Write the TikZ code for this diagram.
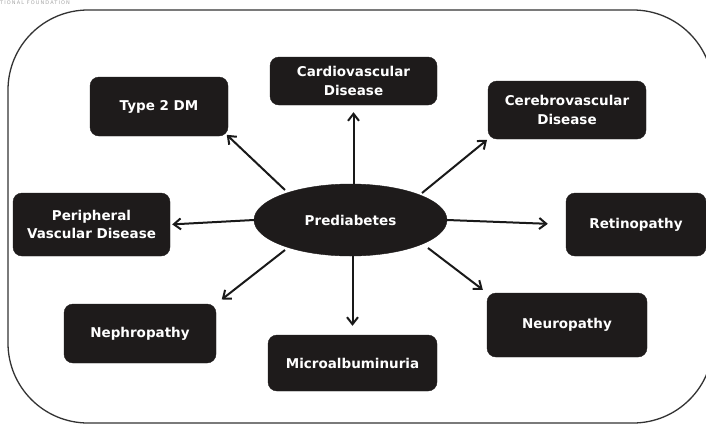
\documentclass[tikz,border=0pt]{standalone}
\usepackage{fontspec}
\setmainfont{DejaVu Sans}
\usetikzlibrary{shapes.geometric,arrows.meta}
\definecolor{boxfill}{HTML}{1E1B1B}
\tikzset{
  box/.style={draw=boxfill, fill=boxfill, rounded corners=9pt, text=white,
    font=\bfseries\fontsize{13.5}{18.5}\selectfont, align=center, inner sep=0pt},
  arr/.style={-{Straight Barb[length=7pt,width=11pt,line width=2pt]}, line width=2pt, black!90},
}
\begin{document}
\begin{tikzpicture}[x=1pt,y=-1pt]
\useasboundingbox (0,0) rectangle (706,424);
\fill[white] (0,0) rectangle (706,424);
\node[anchor=north west, inner sep=0pt, text=black!35, font=\fontsize{5}{5.5}\selectfont] (hdr) at (0,0.3) {\addfontfeature{LetterSpace=22}TIONAL FOUNDATION};
\draw[line width=1.3pt, black!80, rounded corners=80pt] (8,10) rectangle (713,423);

\node[box, minimum width=138pt, minimum height=59pt] (t2) at (159,106.5) {Type 2 DM};
\node[box, minimum width=167pt, minimum height=48pt] (cardio) at (353.5,81) {Cardiovascular\\Disease};
\node[box, minimum width=158pt, minimum height=58pt] (cere) at (567,110) {Cerebrovascular\\Disease};
\node[box, minimum width=140pt, minimum height=63pt] (ret) at (636,224.5) {Retinopathy};
\node[box, minimum width=160pt, minimum height=64pt] (neuro) at (567,325) {Neuropathy};
\node[box, minimum width=169pt, minimum height=56pt] (micro) at (352.5,363) {Microalbuminuria};
\node[box, minimum width=152pt, minimum height=59pt] (neph) at (140,333.5) {Nephropathy};
\node[box, minimum width=157pt, minimum height=63pt] (pvd) at (91.5,224.5) {Peripheral\\Vascular Disease};
\node[ellipse, fill=boxfill, draw=boxfill, minimum width=193pt, minimum height=72pt, inner sep=0pt,
  text=white, font=\bfseries\fontsize{13.5}{18.5}\selectfont] (pre) at (350.5,220) {Prediabetes};

\coordinate (pT2) at (285,190);
\coordinate (pCe) at (422,193);
\coordinate (pNe) at (428,248);
\coordinate (pNp) at (285,250);
\draw[arr] (pT2) -- (t2.south east) [shorten >=-2pt];
\draw[arr, shorten >=7pt] (pre.north -| cardio) -- (cardio.south);
\draw[arr, shorten >=1pt] (pCe) -- (cere.south west);
\draw[arr, shorten >=18pt] (pre.east) -- (ret.west);
\draw[arr, shorten >=5pt] (pNe) -- (neuro.north west);
\draw[arr, shorten >=9pt] (pre.south -| micro) -- (micro.north);
\draw[arr, shorten >=7pt] (pNp) -- (neph.north east);
\draw[arr, shorten >=2pt] (pre.west) -- (pvd.east);
\end{tikzpicture}
\end{document}
